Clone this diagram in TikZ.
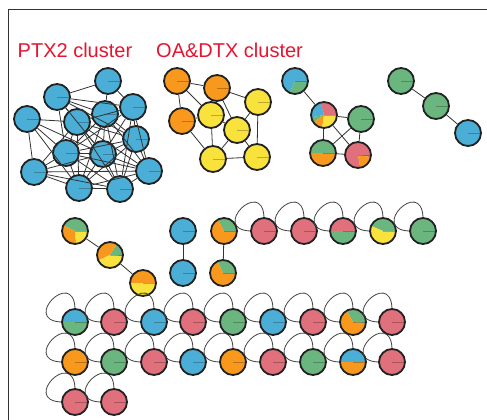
\documentclass[tikz,border=0pt]{standalone}
\usepackage{fontspec}
\setmainfont{Liberation Sans}
\usetikzlibrary{positioning}

\definecolor{cblue}{HTML}{4BAED6}
\definecolor{corange}{HTML}{F8981D}
\definecolor{cyellow}{HTML}{F9E23B}
\definecolor{cgreen}{HTML}{6BB57F}
\definecolor{cred}{HTML}{E0707B}
\definecolor{ctitle}{HTML}{E8132E}
\definecolor{cline}{HTML}{222222}

\tikzset{
  tick/.style={black, line width=0.5pt, opacity=0.25},
  gnode/.style={circle, draw=cline, line width=1.8pt, minimum size=26pt, inner sep=0pt, fill=#1,
    path picture={\draw[tick] (path picture bounding box.center) -- (path picture bounding box.east);}},
  pienode/.style={gnode=white, path picture={
      \foreach \a/\b/\c in {#1}
        \fill[\c] (path picture bounding box.center) -- ++(\a:16pt) arc[start angle=\a, end angle=\b, radius=16pt] -- cycle;
      \draw[tick] (path picture bounding box.center) -- (path picture bounding box.east);}},
  link/.style={draw=black!80, line width=0.8pt},
  loopline/.style={draw=black!75, line width=0.8pt},
  frame/.style={draw=black!80, line width=1.6pt},
  title/.style={anchor=base west, inner sep=0pt, text=ctitle, font=\fontsize{20}{24}\selectfont}
}
\newcommand{\selfloop}[1]{\draw[loopline] (#1.north) .. controls +(-2,-40) and +(-40,-2) .. (#1.west);}

\begin{document}
\begin{tikzpicture}[x=1pt, y=-1pt]
  \useasboundingbox (0,0) rectangle (487,420);
  \draw[frame] (8.5,420) -- (8.5,9.5) -- (487,9.5);

  \node[title] (ptxlabel) at (17.5,58) {PTX2 cluster};
  \node[title] (oalabel) at (156,58) {OA\&DTX cluster};

  % PTX2 cluster
  \foreach \n/\x/\y in {n1/108/81, n2/57/97, n3/133/107, n4/105/114, n5/27/119, n6/77/122, n7/136/139,
                        n8/66/153, n9/103/154, n10/34/172, n11/149/171, n12/79/188, n13/120/189}
    \node[gnode=cblue] (\n) at (\x,\y) {};
  \foreach \a/\b in {n1/n2, n1/n3, n1/n4, n2/n3, n2/n4, n2/n6, n2/n7, n2/n8, n2/n9,
                     n3/n4, n3/n6, n3/n7, n3/n8, n3/n9, n3/n11, n3/n13,
                     n4/n6, n4/n7, n4/n8, n4/n9, n4/n11, n4/n12, n4/n13,
                     n5/n6, n5/n8, n5/n9, n5/n10, n5/n12,
                     n6/n7, n6/n8, n6/n9, n6/n10, n6/n11, n6/n12, n6/n13,
                     n7/n8, n7/n9, n7/n11, n7/n12, n7/n13,
                     n8/n9, n8/n10, n8/n11, n8/n12, n8/n13,
                     n9/n10, n9/n11, n9/n12, n9/n13, n10/n11, n10/n12, n10/n13,
                     n11/n12, n11/n13, n12/n13}
    \draw[link] (\a) -- (\b);

  % OA&DTX cluster
  \foreach \n/\x/\y/\c in {o1/177/81/corange, o2/217/88/corange, o3/182/121/corange,
                           y1/258/102/cyellow, y2/211/115/cyellow, y3/237/130/cyellow,
                           y4/213/159/cyellow, y5/257/157/cyellow}
    \node[gnode=\c] (\n) at (\x,\y) {};
  \foreach \a/\b in {o1/o2, o1/o3, o1/y2, o2/y1, o2/y2, o2/y3, o3/y2, o3/y4,
                     y1/y3, y1/y5, y2/y3, y2/y4, y3/y4, y3/y5, y4/y5}
    \draw[link] (\a) -- (\b);

  % mixed cluster
  \node[pienode={0/245/cblue, 245/360/cgreen}] (m1) at (295,81) {};
  \node[pienode={0/106/cred, 106/190/cblue, 190/215/cgreen, 215/262/corange, 262/360/cyellow}] (m2) at (324,115) {};
  \node[gnode=cgreen] (m3) at (361,119) {};
  \node[pienode={0/180/cgreen, 180/360/corange}] (m4) at (323,153) {};
  \node[pienode={-10/280/cred, 280/350/corange}] (m5) at (358,155) {};
  \foreach \a/\b in {m1/m2, m2/m3, m2/m4, m2/m5, m3/m4, m3/m5, m4/m5}
    \draw[link] (\a) -- (\b);

  % green chain
  \node[gnode=cgreen] (g1) at (401,81) {};
  \node[gnode=cgreen] (g2) at (436,106) {};
  \node[gnode=cblue] (g3) at (468,133) {};
  \draw[link] (g1) -- (g2) (g2) -- (g3);

  % small chains
  \node[pienode={0/155/cgreen, 155/275/corange, 275/360/cyellow}] (p1) at (75,231) {};
  \node[pienode={-5/58/cgreen, 58/205/corange, 205/355/cyellow}] (p2) at (110,255) {};
  \node[pienode={0/180/corange, 180/360/cyellow}] (p3) at (143,283) {};
  \draw[link] (p1) -- (p2) (p2) -- (p3);

  \node[gnode=cblue] (q1) at (183,231) {};
  \node[gnode=cblue] (q2) at (183,273) {};
  \draw[link] (q1) -- (q2);

  \node[pienode={0/118/cgreen, 118/360/corange}] (r1) at (224,231) {};
  \node[pienode={0/115/cgreen, 115/360/corange}] (r2) at (223,273) {};
  \draw[link] (r1) -- (r2);

  \node[gnode=cred] (s1) at (264,231) {};
  \node[gnode=cred] (s2) at (304,231) {};
  \node[pienode={0/180/cred, 180/360/cgreen}] (s3) at (343,231) {};
  \node[pienode={0/157/cgreen, 157/360/cyellow}] (s4) at (383,231) {};
  \node[gnode=cgreen] (s5) at (423,231) {};
  \foreach \n in {s1, s2, s3, s4, s5}
    {\selfloop{\n}}

  % self-loop grid
  \node[pienode={0/180/cblue, 180/360/cgreen}] (a1) at (75,322) {};
  \foreach \n/\x/\c in {a2/114/cred, a3/154/cblue, a4/193/cred, a5/233/cgreen,
                        a6/273/cblue, a7/313/cred, a9/392/cred}
    \node[gnode=\c] (\n) at (\x,322) {};
  \node[pienode={-5/119/cgreen, 119/355/corange}] (a8) at (353,322) {};

  \foreach \n/\x/\c in {b1/75/corange, b2/114/cgreen, b3/154/cred, b4/193/cblue, b5/233/corange,
                        b6/273/cred, b7/313/cgreen, b9/392/cred}
    \node[gnode=\c] (\n) at (\x,362) {};
  \node[pienode={0/180/cblue, 180/360/corange}] (b8) at (353,362) {};

  \node[gnode=cred] (c1) at (75,402) {};
  \node[gnode=cred] (c2) at (114,402) {};

  \foreach \n in {a1, a2, a3, a4, a5, a6, a7, a8, a9, b1, b2, b3, b4, b5, b6, b7, b8, b9, c1, c2}
    {\selfloop{\n}}
\end{tikzpicture}
\end{document}
